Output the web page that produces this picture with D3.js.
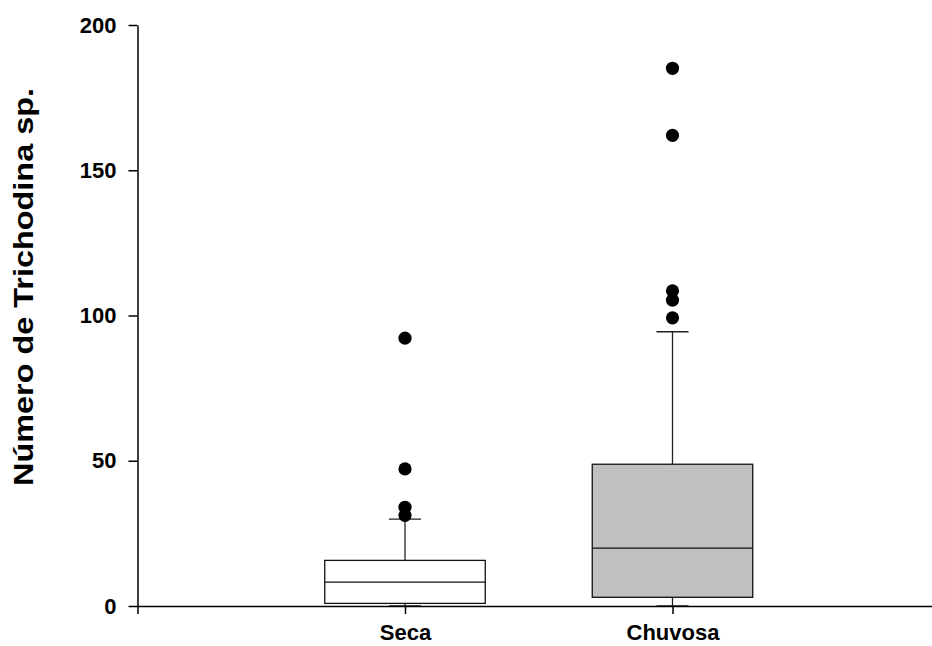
<!DOCTYPE html>
<html>
<head>
<meta charset="utf-8">
<script src="https://cdn.jsdelivr.net/npm/d3@7"></script>
<style>
  body { margin: 0; background: #fff; }
  svg text { font-family: "Liberation Sans", Arial, sans-serif; font-weight: bold; fill: #000; }
</style>
</head>
<body>
<svg width="932" height="646"></svg>
<script>
// values
const categories = ["Seca", "Chuvosa"];
const q1 = [0.9, 3.0];
const median = [8.2, 19.9];
const q3 = [15.7, 48.8];
const whiskerLow = [0, 0];
const whiskerHigh = [29.9, 94.4];
const outliers = [
    [31.2, 34.0, 47.2, 92.2],
    [99.2, 105.3, 108.5, 162.0, 185.1]
];
const boxFill = ["#ffffff", "#c0c0c0"];
const yTicks = [0, 50, 100, 150, 200];

const svg = d3.select("svg");

// x positions: categories sit at 1 and 2 on a 0..3 axis
const x = d3.scaleLinear().domain([0, 3]).range([137.5, 940]);
const y = d3.scaleLinear().domain([0, 200]).range([606, 25]);

const boxHalf = 0.3;   // in x units
const capHalf = 0.06;

const data = categories.map((c, i) => ({
    name: c, pos: i + 1,
    q1: q1[i], med: median[i], q3: q3[i],
    lo: whiskerLow[i], hi: whiskerHigh[i],
    out: outliers[i], fill: boxFill[i]
}));

const g = svg.append("g");

const box = g.selectAll(".box")
    .data(data)
    .join("g")
    .attr("class", "box");

// whiskers
box.append("line")
    .attr("x1", d => x(d.pos)).attr("x2", d => x(d.pos))
    .attr("y1", d => y(d.q3)).attr("y2", d => y(d.hi))
    .attr("stroke", "#222").attr("stroke-width", 1.3);
box.append("line")
    .attr("x1", d => x(d.pos)).attr("x2", d => x(d.pos))
    .attr("y1", d => y(d.q1)).attr("y2", d => y(d.lo))
    .attr("stroke", "#222").attr("stroke-width", 1.3);
// caps
box.append("line")
    .attr("x1", d => x(d.pos - capHalf)).attr("x2", d => x(d.pos + capHalf))
    .attr("y1", d => y(d.hi)).attr("y2", d => y(d.hi))
    .attr("stroke", "#222").attr("stroke-width", 1.3);
box.append("line")
    .attr("x1", d => x(d.pos - capHalf)).attr("x2", d => x(d.pos + capHalf))
    .attr("y1", d => y(d.lo)).attr("y2", d => y(d.lo))
    .attr("stroke", "#222").attr("stroke-width", 1.3);

// box
box.append("rect")
    .attr("x", d => x(d.pos - boxHalf))
    .attr("width", d => x(d.pos + boxHalf) - x(d.pos - boxHalf))
    .attr("y", d => y(d.q3))
    .attr("height", d => y(d.q1) - y(d.q3))
    .attr("fill", d => d.fill)
    .attr("stroke", "#111").attr("stroke-width", 1.3);
// median
box.append("line")
    .attr("x1", d => x(d.pos - boxHalf)).attr("x2", d => x(d.pos + boxHalf))
    .attr("y1", d => y(d.med)).attr("y2", d => y(d.med))
    .attr("stroke", "#111").attr("stroke-width", 1.3);

// outliers
box.selectAll("circle")
    .data(d => d.out.map(v => ({ pos: d.pos, v: v })))
    .join("circle")
    .attr("cx", d => x(d.pos))
    .attr("cy", d => y(d.v))
    .attr("r", 6.6)
    .attr("fill", "#000");

// y axis
const yAxis = svg.append("g")
    .attr("transform", `translate(${x(0)},0)`)
    .call(d3.axisLeft(y).tickValues(yTicks).tickSize(9).tickSizeOuter(0).tickPadding(12));
yAxis.selectAll("text").style("font-size", "22px");

// x axis
const xAxis = svg.append("g")
    .attr("transform", `translate(0,${y(0)})`)
    .call(d3.axisBottom(x).tickValues([0, 1, 2, 3]).tickSize(8).tickSizeOuter(0)
        .tickFormat(d => (d >= 1 && d <= categories.length) ? categories[d - 1] : ""));
xAxis.selectAll("text")
    .attr("y", 34).attr("dy", 0)
    .style("font-size", "22px");

svg.selectAll(".domain, .tick line").attr("stroke", "#000").attr("stroke-width", 1.5);

// y axis title (stretched like the original export)
svg.append("text")
    .attr("transform", "translate(33,287) rotate(-90)")
    .attr("text-anchor", "middle")
    .attr("textLength", 398)
    .attr("lengthAdjust", "spacingAndGlyphs")
    .style("font-size", "27px")
    .text("Número de Trichodina sp.");
</script>
</body>
</html>
